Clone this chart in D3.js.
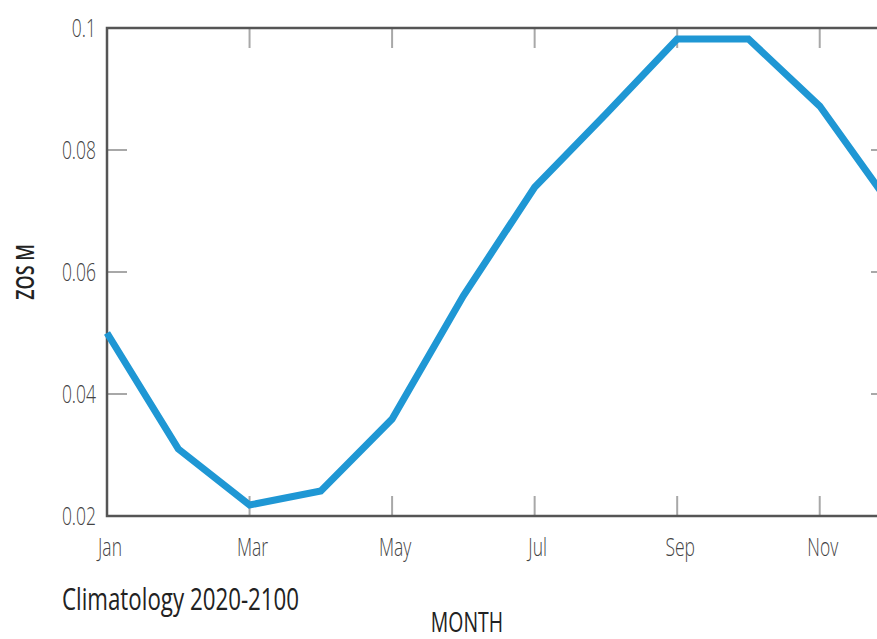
<!DOCTYPE html>
<html><head><meta charset="utf-8">
<script src="https://cdn.jsdelivr.net/npm/d3@7"></script>
<style>
body{margin:0;background:#fff;}
svg{display:block;}
text{font-family:"Open Sans","DejaVu Sans",sans-serif;}
</style></head><body>
<svg id="c" width="877" height="639"></svg>
<script>
const months = ["Jan","Feb","Mar","Apr","May","Jun","Jul","Aug","Sep","Oct","Nov","Dec"];
const zos = [0.0500,0.0310,0.0218,0.0241,0.0359,0.0561,0.0739,0.0859,0.0982,0.0982,0.0872,0.0709];
const yTicks = [0.02,0.04,0.06,0.08,0.1];
const xTickMonths = ["Jan","Mar","May","Jul","Sep","Nov"];
const yTitle = "ZOS M";
const xTitle = "MONTH";
const caption = "Climatology 2020-2100";

const svg = d3.select("#c");
const L = 107, R = 891, T = 28, B = 516;
const x = d3.scalePoint().domain(months).range([L, R]);
const y = d3.scaleLinear().domain([0.02, 0.1]).range([B, T]);
const SX = 0.74;

function label(px, py, str, o) {
  const g = svg.append("g").attr("transform", `translate(${px},${py})${o.rot ? " rotate(" + o.rot + ")" : ""} scale(${o.sx || SX},1)`);
  return g.append("text").attr("text-anchor", o.anchor || "middle")
    .attr("dy", o.dy || 0)
    .attr("font-size", o.size).attr("font-weight", o.weight || 400)
    .attr("fill", o.fill || "#444").text(str);
}

const tickLen = 20, tickCol = "#a8a8a8";
const g = svg.append("g");
g.selectAll(".bt").data(xTickMonths.slice(1)).enter().append("line")
  .attr("x1", d => x(d)).attr("x2", d => x(d)).attr("y1", B).attr("y2", B - tickLen)
  .attr("stroke", tickCol).attr("stroke-width", 2);
g.selectAll(".tt").data(xTickMonths.slice(1)).enter().append("line")
  .attr("x1", d => x(d)).attr("x2", d => x(d)).attr("y1", T).attr("y2", T + tickLen)
  .attr("stroke", tickCol).attr("stroke-width", 2);
g.selectAll(".lt").data(yTicks.slice(1, -1)).enter().append("line")
  .attr("x1", L).attr("x2", L + tickLen).attr("y1", d => y(d)).attr("y2", d => y(d))
  .attr("stroke", tickCol).attr("stroke-width", 2);
g.selectAll(".rt").data(yTicks.slice(1, -1)).enter().append("line")
  .attr("x1", R).attr("x2", R - tickLen).attr("y1", d => y(d)).attr("y2", d => y(d))
  .attr("stroke", tickCol).attr("stroke-width", 2);

svg.append("rect").attr("x", L).attr("y", T).attr("width", R - L).attr("height", B - T)
  .attr("fill", "none").attr("stroke", "#555").attr("stroke-width", 2.5);

const line = d3.line().x((d, i) => x(months[i])).y(d => y(d));
svg.append("path").datum(zos).attr("d", line).attr("fill", "none")
  .attr("stroke", "#1f97d4").attr("stroke-width", 7).attr("stroke-linejoin", "miter");

yTicks.forEach(d => label(L - 11, y(d), d3.format("")(d), {anchor: "end", dy: "0.35em", size: 25, weight: 350, sx: 0.7}));
xTickMonths.forEach(d => label(x(d) + 3, 556, d, {size: 25, weight: 350, sx: 0.7}));

label(34, 272, yTitle, {rot: -90, size: 25, weight: 600, fill: "#222", sx: 0.72});
label(467, 632, xTitle, {size: 27, weight: 500, fill: "#222", sx: 0.72});
label(62, 610, caption, {anchor: "start", size: 31, weight: 500, fill: "#222", sx: 0.72});
</script>
</body></html>
